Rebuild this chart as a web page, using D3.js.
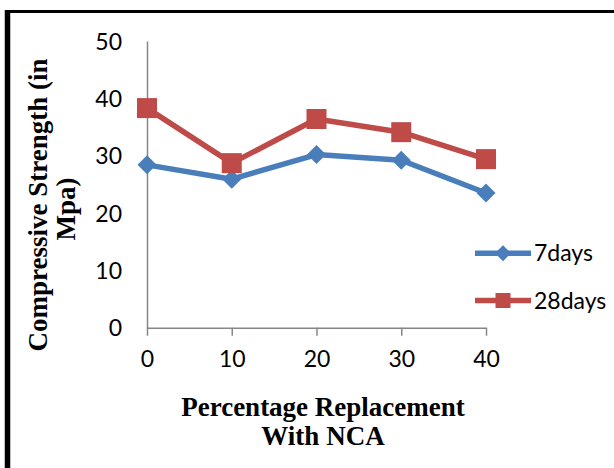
<!DOCTYPE html>
<html>
<head>
<meta charset="utf-8">
<script src="https://cdn.jsdelivr.net/npm/d3@7"></script>
<style>
  html, body { margin: 0; padding: 0; background: #fff; }
  svg { display: block; }
</style>
</head>
<body>
<svg id="chart" width="614" height="468"></svg>
<script>
// Compressive strength (MPa) at each NCA replacement level
const replacement = [0, 10, 20, 30, 40];
const strength7 = [28.4, 25.9, 30.2, 29.2, 23.5];
const strength28 = [38.3, 28.7, 36.4, 34.1, 29.4];
const seriesNames = ["7days", "28days"];
const yTicks = [0, 10, 20, 30, 40, 50];

const colors = { "7days": "#4A7EBB", "28days": "#BE4B48" };
const numFont = "Lato, 'Open Sans', sans-serif";
const titleFont = "'Liberation Serif', 'Times New Roman', serif";

const svg = d3.select("#chart");

// frame around the figure
svg.append("path")
  .attr("d", "M7.5,468 V11.5 H614")
  .attr("fill", "none")
  .attr("stroke", "#000")
  .attr("stroke-width", 3);
svg.append("line")
  .attr("x1", 7.5).attr("x2", 7.5).attr("y1", 10).attr("y2", 468)
  .attr("stroke", "#000").attr("stroke-width", 5.5);

const x = d3.scaleLinear().domain([0, 40]).range([147, 486]);
const y = d3.scaleLinear().domain([0, 50]).range([327.7, 41]);

// y axis: plain line with labels, no ticks
const yAxis = d3.axisLeft(y).tickValues(yTicks).tickSize(0).tickPadding(25);
const gy = svg.append("g").attr("transform", `translate(${x(0)},0)`).call(yAxis);
gy.select(".domain").attr("stroke", "#868686").attr("stroke-width", 1.5);
gy.selectAll("text")
  .attr("font-family", numFont).attr("font-size", 23).attr("fill", "#000")
  .attr("dy", "0.36em");

// x axis with outward ticks at each category
const xAxis = d3.axisBottom(x).tickValues(replacement).tickSizeInner(8).tickSizeOuter(0).tickPadding(20);
const gx = svg.append("g").attr("transform", `translate(0,${y(0)})`).call(xAxis);
gx.select(".domain").attr("stroke", "#868686").attr("stroke-width", 1.5);
gx.selectAll(".tick line").attr("stroke", "#868686").attr("stroke-width", 1.5);
gx.selectAll("text")
  .attr("font-family", numFont).attr("font-size", 23).attr("fill", "#000")
  .attr("dy", "0.48em");

const line = d3.line().x((d, i) => x(replacement[i])).y(d => y(d));

const diamond = (cx, cy, r) => `M${cx},${cy - r}L${cx + r},${cy}L${cx},${cy + r}L${cx - r},${cy}Z`;
const square = (cx, cy, r) => `M${cx - r},${cy - r}H${cx + r}V${cy + r}H${cx - r}Z`;

function drawSeries(values, name, shape, r) {
  svg.append("path")
    .datum(values)
    .attr("d", line)
    .attr("fill", "none")
    .attr("stroke", colors[name])
    .attr("stroke-width", 5.5)
    .attr("stroke-linejoin", "round");
  svg.append("g").selectAll("path")
    .data(values)
    .join("path")
    .attr("d", (d, i) => shape(x(replacement[i]), y(d), r))
    .attr("fill", colors[name]);
}

drawSeries(strength7, "7days", diamond, 9.5);
drawSeries(strength28, "28days", square, 10);

// legend
const legend = svg.append("g");
const legendY = [253.3, 300.5];
const legendShapes = [diamond, square];
const legendR = [8, 7.5];
seriesNames.forEach((name, i) => {
  const ly = legendY[i];
  legend.append("line")
    .attr("x1", 475).attr("x2", 531).attr("y1", ly).attr("y2", ly)
    .attr("stroke", colors[name]).attr("stroke-width", 5.5);
  legend.append("path")
    .attr("d", legendShapes[i](503, ly, legendR[i]))
    .attr("fill", colors[name]);
  legend.append("text")
    .attr("x", 534).attr("y", ly + 8)
    .attr("font-family", numFont).attr("font-size", 23).attr("fill", "#000")
    .text(name);
});

// axis titles
const xTitle = svg.append("text")
  .attr("text-anchor", "middle")
  .attr("font-family", titleFont).attr("font-weight", "bold")
  .attr("font-size", 27).attr("fill", "#000");
xTitle.append("tspan").attr("x", 323).attr("y", 415.5).text("Percentage Replacement");
xTitle.append("tspan").attr("x", 323).attr("y", 445).text("With NCA");

const yTitle = svg.append("text")
  .attr("transform", "rotate(-90)")
  .attr("text-anchor", "middle")
  .attr("font-family", titleFont).attr("font-weight", "bold")
  .attr("font-size", 27).attr("fill", "#000");
yTitle.append("tspan").attr("x", -205).attr("y", 47).text("Compressive Strength (in");
yTitle.append("tspan").attr("x", -209).attr("y", 75).text("Mpa)");
</script>
</body>
</html>
